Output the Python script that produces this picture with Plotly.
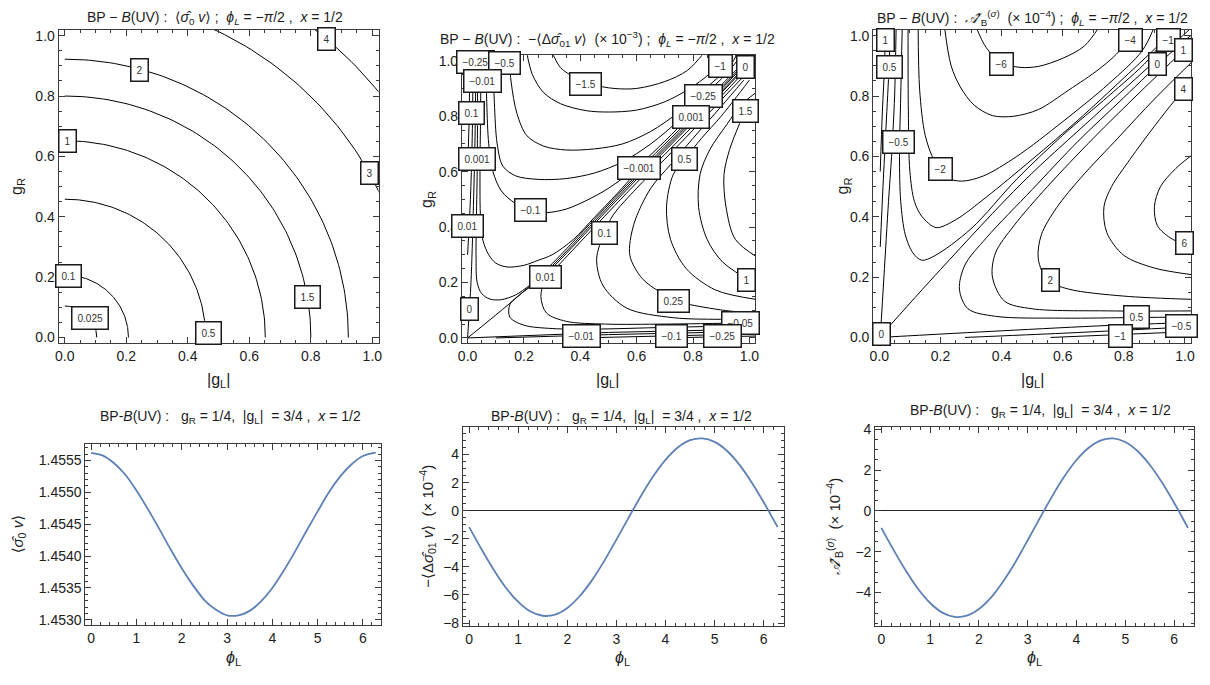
import numpy as np
import plotly.graph_objects as go

# ---------------- data ----------------
# Top-left: <sigma0 v> contours (quarter circles in the |gL|-gR plane)
sigma0_levels = ["0.025", "0.1", "0.5", "1", "1.5", "2", "3", "4"]
sigma0_radii = [0.104, 0.207, 0.458, 0.652, 0.800, 0.922, 1.130, 1.305]
sigma0_lab_x = [0.083, 0.012, 0.468, 0.010, 0.790, 0.242, 0.990, 0.850]
sigma0_lab_y = [0.065, 0.205, 0.016, 0.651, 0.134, 0.886, 0.545, 0.990]

# Top-middle: -<Δσ01 v> (×10^-3) contour paths, (|gL|, gR) points
dsig_paths = [
    [(0.30, 1.03), (0.33, 0.975), (0.38, 0.94), (0.44, 0.915), (0.52, 0.90), (0.60, 0.90), (0.70, 0.925), (0.78, 0.965), (0.84, 1.03)],
    [(0.21, 1.03), (0.23, 0.95), (0.27, 0.885), (0.33, 0.845), (0.42, 0.82), (0.50, 0.815), (0.60, 0.822), (0.70, 0.852), (0.78, 0.895), (0.86, 0.955), (0.91, 1.03)],
    [(0.146, 1.03), (0.155, 0.92), (0.175, 0.81), (0.21, 0.73), (0.27, 0.692), (0.35, 0.678), (0.45, 0.682), (0.55, 0.70), (0.65, 0.745), (0.75, 0.815), (0.85, 0.905), (0.93, 0.98), (0.96, 1.03)],
    [(0.09, 1.03), (0.095, 0.85), (0.105, 0.70), (0.125, 0.62), (0.17, 0.585), (0.25, 0.572), (0.35, 0.575), (0.45, 0.595), (0.55, 0.635), (0.65, 0.70), (0.75, 0.785), (0.837, 0.872), (0.92, 0.955), (0.98, 1.03)],
    [(0.065, 1.03), (0.068, 0.85), (0.075, 0.70), (0.09, 0.60), (0.12, 0.53), (0.17, 0.485), (0.225, 0.46), (0.28, 0.452), (0.35, 0.465), (0.42, 0.495), (0.50, 0.54), (0.60, 0.615), (0.70, 0.71), (0.80, 0.812), (0.90, 0.912), (1.0, 1.015)],
    [(0.048, 1.03), (0.046, 0.80), (0.044, 0.60), (0.046, 0.43), (0.055, 0.35), (0.075, 0.30), (0.10, 0.27), (0.14, 0.256), (0.20, 0.262), (0.25, 0.28), (0.30, 0.30), (0.376, 0.356), (0.45, 0.435), (0.53, 0.52), (0.60, 0.598), (0.80, 0.80), (1.0, 1.008)],
    [(0.036, 1.03), (0.034, 0.60), (0.030, 0.30), (0.034, 0.20), (0.05, 0.16), (0.08, 0.14), (0.12, 0.138), (0.17, 0.155), (0.22, 0.19), (0.30, 0.268), (0.45, 0.428), (0.60, 0.588), (0.80, 0.792), (1.0, 1.003)],
    [(0.0, 0.0), (0.15, 0.125), (0.30, 0.26), (0.45, 0.42), (0.60, 0.58), (0.80, 0.785), (1.03, 1.025)],
    [(1.03, 0.045), (0.70, 0.038), (0.45, 0.032), (0.30, 0.034), (0.20, 0.046), (0.15, 0.075), (0.15, 0.12), (0.19, 0.16), (0.25, 0.205), (0.30, 0.252), (0.45, 0.412), (0.60, 0.572), (0.80, 0.778), (1.0, 0.99)],
    [(1.03, 0.055), (0.70, 0.05), (0.49, 0.05), (0.35, 0.06), (0.28, 0.09), (0.26, 0.15), (0.276, 0.21), (0.33, 0.27), (0.45, 0.40), (0.60, 0.56), (0.80, 0.765), (1.0, 0.98)],
    [(1.03, 0.066), (0.917, 0.067), (0.73, 0.073), (0.564, 0.108), (0.48, 0.19), (0.458, 0.285), (0.485, 0.379), (0.517, 0.444), (0.60, 0.54), (0.70, 0.645), (0.80, 0.75), (0.92, 0.88), (1.0, 0.965)],
    [(1.03, 0.09), (0.93, 0.097), (0.79, 0.12), (0.73, 0.135), (0.68, 0.167), (0.62, 0.214), (0.576, 0.297), (0.59, 0.41), (0.65, 0.54), (0.72, 0.625), (0.80, 0.72), (0.90, 0.835), (0.98, 0.93)],
    [(1.03, 0.138), (0.88, 0.173), (0.776, 0.25), (0.72, 0.356), (0.706, 0.473), (0.73, 0.59), (0.77, 0.644), (0.83, 0.72), (0.90, 0.80), (0.97, 0.89), (1.0, 0.93)],
    [(1.03, 0.19), (0.906, 0.273), (0.85, 0.356), (0.82, 0.47), (0.825, 0.59), (0.86, 0.68), (0.92, 0.77), (0.97, 0.84), (1.03, 0.89)],
    [(1.03, 0.29), (0.95, 0.356), (0.917, 0.473), (0.91, 0.59), (0.93, 0.68), (0.96, 0.76), (0.985, 0.818), (1.03, 0.87)],
    [(0.0, 0.0), (0.012, 0.20), (0.020, 0.45), (0.026, 0.70), (0.030, 1.03)],
    [(0.0, 0.30), (0.010, 0.50), (0.016, 0.70), (0.020, 1.03)],
    [(0.0, 0.60), (0.006, 0.80), (0.008, 1.03)],
    [(0.0, 0.0), (0.50, 0.02), (1.03, 0.032)],
    [(0.10, 0.0), (0.50, 0.012), (1.03, 0.024)],
    [(0.40, 0.0), (0.72, 0.007), (1.03, 0.015)],
    [(0.70, 0.0), (1.03, 0.007)],
]
dsig_lab_text = ["−0.25", "−0.5", "−0.01", "−1.5", "−1", "0", "−0.25", "1.5", "0.001", "0.1", "0.001",
                 "0.5", "−0.001", "−0.1", "0.01", "0.1", "0.01", "1", "0.25", "0", "−0.05", "−0.01", "−0.1", "−0.25"]
dsig_lab_x = [0.028, 0.131, 0.054, 0.417, 0.896, 0.988, 0.837, 0.985, 0.794, 0.013, 0.034,
              0.770, 0.608, 0.225, 0.000, 0.485, 0.276, 0.990, 0.730, 0.006, 0.970, 0.406, 0.723, 0.906]
dsig_lab_y = [0.995, 0.992, 0.927, 0.916, 0.982, 0.979, 0.872, 0.818, 0.797, 0.810, 0.644,
              0.644, 0.612, 0.460, 0.403, 0.379, 0.220, 0.210, 0.135, 0.105, 0.053, 0.006, 0.006, 0.006]

# Top-right: A'_B^(σ) (×10^-4) contour paths
asym_paths = [
    [(0.316, 1.03), (0.35, 0.96), (0.40, 0.91), (0.46, 0.895), (0.52, 0.898), (0.60, 0.925), (0.67, 0.965), (0.72, 1.03)],
    [(0.213, 1.03), (0.235, 0.90), (0.265, 0.83), (0.31, 0.77), (0.37, 0.735), (0.44, 0.733), (0.52, 0.755), (0.62, 0.82), (0.72, 0.89), (0.79, 0.955), (0.83, 1.03)],
    [(0.127, 1.03), (0.132, 0.82), (0.15, 0.67), (0.18, 0.585), (0.22, 0.53), (0.27, 0.518), (0.34, 0.535), (0.45, 0.60), (0.60, 0.715), (0.75, 0.84), (0.86, 0.95), (0.90, 1.03)],
    [(0.094, 1.03), (0.095, 0.75), (0.10, 0.55), (0.115, 0.45), (0.14, 0.40), (0.186, 0.364), (0.25, 0.39), (0.35, 0.465), (0.50, 0.59), (0.65, 0.72), (0.80, 0.86), (0.93, 0.985), (0.97, 1.03)],
    [(0.075, 1.03), (0.070, 0.80), (0.066, 0.60), (0.070, 0.45), (0.085, 0.34), (0.11, 0.28), (0.138, 0.256), (0.18, 0.27), (0.30, 0.36), (0.45, 0.525), (0.60, 0.67), (0.75, 0.80), (0.88, 0.92), (0.96, 1.03)],
    [(0.0, 0.0), (0.20, 0.225), (0.47, 0.515), (0.70, 0.73), (0.909, 0.922), (1.03, 1.035)],
    [(1.03, 0.068), (0.84, 0.066), (0.60, 0.064), (0.38, 0.07), (0.29, 0.095), (0.262, 0.16), (0.28, 0.24), (0.35, 0.33), (0.50, 0.49), (0.65, 0.65), (0.80, 0.795), (0.95, 0.94), (1.03, 1.01)],
    [(1.03, 0.088), (0.75, 0.088), (0.50, 0.095), (0.41, 0.12), (0.37, 0.20), (0.38, 0.28), (0.44, 0.37), (0.55, 0.50), (0.70, 0.66), (0.85, 0.81), (1.0, 0.955), (1.03, 0.98)],
    [(1.03, 0.126), (0.80, 0.137), (0.62, 0.16), (0.55, 0.19), (0.52, 0.26), (0.53, 0.34), (0.58, 0.43), (0.66, 0.53), (0.78, 0.66), (0.90, 0.79), (1.03, 0.92)],
    [(1.03, 0.207), (0.90, 0.23), (0.80, 0.272), (0.744, 0.348), (0.735, 0.434), (0.76, 0.50), (0.82, 0.59), (0.90, 0.70), (0.97, 0.79), (1.03, 0.86)],
    [(1.03, 0.30), (0.96, 0.325), (0.91, 0.37), (0.90, 0.434), (0.92, 0.50), (0.97, 0.56), (1.03, 0.61)],
    [(0.003, 0.0), (0.015, 0.20), (0.030, 0.45), (0.040, 0.60), (0.050, 0.80), (0.055, 1.03)],
    [(0.003, 0.30), (0.012, 0.50), (0.022, 0.70), (0.032, 0.90), (0.036, 1.03)],
    [(0.003, 0.55), (0.010, 0.75), (0.017, 0.90), (0.020, 1.03)],
    [(0.0, 0.0), (0.40, 0.022), (0.755, 0.04), (1.03, 0.05)],
    [(0.28, 0.0), (0.60, 0.014), (0.80, 0.024), (1.03, 0.036)],
    [(0.56, 0.0), (0.79, 0.01), (1.03, 0.02)],
]
asym_lab_text = ["1", "0.5", "−0.5", "−2", "−6", "−4", "−1", "1", "0", "4", "6", "2", "0.5", "−0.5", "−1", "0"]
asym_lab_x = [0.020, 0.034, 0.063, 0.200, 0.400, 0.823, 0.945, 0.996, 0.909, 0.996, 0.997, 0.560, 0.843, 0.988, 0.790, 0.006]
asym_lab_y = [0.987, 0.895, 0.646, 0.557, 0.906, 0.985, 0.987, 0.954, 0.906, 0.822, 0.313, 0.190, 0.068, 0.037, 0.004, 0.010]

# Bottom row: scans in phi_L at gR = 1/4, |gL| = 3/4
phi = [0.0, 0.25, 0.5, 0.75, 1.0, 1.25, 1.5, 1.75, 2.0, 2.25, 2.5, 2.75, 3.0, 3.25,
       3.5, 3.75, 4.0, 4.25, 4.5, 4.75, 5.0, 5.25, 5.5, 5.75, 6.0, 6.25, 6.283]
sigma0_phi = [1.45562, 1.45558, 1.45546, 1.45528, 1.45503, 1.45474, 1.45443, 1.45411, 1.45381,
              1.45354, 1.45331, 1.45316, 1.45307, 1.45307, 1.45314, 1.45329, 1.45350, 1.45377,
              1.45407, 1.45439, 1.45470, 1.45500, 1.45525, 1.45544, 1.45557, 1.45562, 1.45562]
dsig_phi = [-1.17, -2.73, -4.20, -5.49, -6.49, -7.18, -7.48, -7.40, -6.92, -6.09, -4.96, -3.59,
            -2.06, -0.49, 1.05, 2.45, 3.62, 4.50, 5.02, 5.15, 4.90, 4.27, 3.30, 2.05, 0.60, -0.96, -1.17]
asym_phi = [-0.83, -1.91, -2.92, -3.81, -4.51, -4.98, -5.19, -5.13, -4.80, -4.23, -3.44, -2.50,
            -1.44, -0.35, 0.71, 1.68, 2.49, 3.09, 3.45, 3.55, 3.37, 2.93, 2.26, 1.40, 0.40, -0.68, -0.83]

# ---------------- styling ----------------
W, H = 1210, 685
FONT = "Liberation Sans, Arial, DejaVu Sans, sans-serif"
FRAME = "#3a3a3a"
TXT = "#1c1c1c"
BLUE = "#5e81b5"

# subplot frames in pixels: left, top, right, bottom
BOX = {
    1: (55, 24, 377, 343),
    2: (461, 50, 756, 343),
    3: (875, 24, 1195, 343),
    4: (82, 445, 380, 629),
    5: (462, 428, 785, 630),
    6: (877, 428, 1198, 630),
}


def domains(i):
    l, t, r, b = BOX[i]
    return [l / W, r / W], [1 - b / H, 1 - t / H]


def axis(domain, rng, tick0, dtick, mdtick, fmt, anchor, zero=False):
    return dict(
        domain=domain, range=rng, anchor=anchor, tick0=tick0, dtick=dtick, tickformat=fmt,
        ticks="inside", ticklen=6, tickwidth=1, tickcolor=FRAME,
        minor=dict(ticks="inside", ticklen=3, tickwidth=1, tickcolor=FRAME,
                   tick0=tick0, dtick=mdtick, showgrid=False),
        showline=True, linewidth=1, linecolor=FRAME, mirror="allticks",
        showgrid=False, zeroline=zero, zerolinecolor="#222222", zerolinewidth=1,
        tickfont=dict(family=FONT, size=14, color=TXT),
    )


fig = go.Figure()
layout = dict(width=W, height=H, margin=dict(l=0, r=0, t=0, b=0),
              paper_bgcolor="white", plot_bgcolor="white", showlegend=False)

grng = [-0.02, 1.02]
prng = [-0.126, 6.41]
specs = {
    1: (grng, 0, 0.2, 0.05, ".1f", grng, 0, 0.2, 0.05, ".1f", False),
    2: (grng, 0, 0.2, 0.05, ".1f", grng, 0, 0.2, 0.05, ".1f", False),
    3: (grng, 0, 0.2, 0.05, ".1f", grng, 0, 0.2, 0.05, ".1f", False),
    4: (prng, 0, 1, 0.2, "d", [1.45292, 1.45576], 1.453, 0.0005, 0.0001, ".4f", False),
    5: (prng, 0, 1, 0.2, "d", [-8.2, 5.95], 0, 2, 0.5, "d", True),
    6: (prng, 0, 1, 0.2, "d", [-5.63, 4.1], 0, 2, 0.5, "d", True),
}
for i, (xr, xt0, xdt, xm, xf, yr, yt0, ydt, ym, yf, zero) in specs.items():
    dx, dy = domains(i)
    sfx = "" if i == 1 else str(i)
    layout["xaxis" + sfx] = axis(dx, xr, xt0, xdt, xm, xf, "y" + sfx)
    layout["yaxis" + sfx] = axis(dy, yr, yt0, ydt, ym, yf, "x" + sfx, zero=zero)

line_k = dict(color="black", width=1)

# top-left arcs
t = np.linspace(0, np.pi / 2, 90)
for r in sigma0_radii:
    fig.add_trace(go.Scatter(x=r * np.cos(t), y=r * np.sin(t), mode="lines",
                             line=line_k, xaxis="x", yaxis="y", hoverinfo="skip"))

# top-middle and top-right paths
for paths, ax in ((dsig_paths, "2"), (asym_paths, "3")):
    for p in paths:
        xs, ys = zip(*p)
        shape = "linear" if len(p) <= 3 else "spline"
        fig.add_trace(go.Scatter(x=xs, y=ys, mode="lines",
                                 line=dict(color="black", width=1, shape=shape, smoothing=0.9),
                                 xaxis="x" + ax, yaxis="y" + ax, hoverinfo="skip"))

# bottom scans
for vals, ax in ((sigma0_phi, "4"), (dsig_phi, "5"), (asym_phi, "6")):
    fig.add_trace(go.Scatter(x=phi, y=vals, mode="lines",
                             line=dict(color=BLUE, width=1.8, shape="spline", smoothing=0.8),
                             xaxis="x" + ax, yaxis="y" + ax, hoverinfo="skip"))

ann = []
# contour labels
for texts, xs, ys, ax in ((sigma0_levels, sigma0_lab_x, sigma0_lab_y, ""),
                          (dsig_lab_text, dsig_lab_x, dsig_lab_y, "2"),
                          (asym_lab_text, asym_lab_x, asym_lab_y, "3")):
    for s, x, y in zip(texts, xs, ys):
        ann.append(dict(x=x, y=y, xref="x" + ax, yref="y" + ax, text=s, showarrow=False,
                        font=dict(family=FONT, size=10, color="#333333"),
                        bgcolor="white", bordercolor="#1a1a1a", borderwidth=1.5, borderpad=5))


def ptext(px, py, text, size=13, angle=0):
    ann.append(dict(x=px / W, y=1 - py / H, xref="paper", yref="paper", text=text,
                    showarrow=False, textangle=angle, xanchor="center", yanchor="middle",
                    font=dict(family=FONT, size=size, color=TXT)))


SIG = "<i>σ\u0302</i>"
AH = "<i>\U0001D49C\u0302</i>'"
PHI_L = "<i>ϕ<sub>L</sub></i>"

ptext(212, 12, "BP − <i>B</i>(UV) :  ⟨" + SIG + "<sub>0</sub> <i>v</i>⟩ ;  " + PHI_L + " = −<i>π</i>/2 ,  <i>x</i> = 1/2", size=14)
ptext(608, 34, "BP − <i>B</i>(UV) :  −⟨Δ" + SIG + "<sub>01</sub> <i>v</i>⟩  (× 10<sup>−3</sup>) ;  " + PHI_L + " = −<i>π</i>/2 ,  <i>x</i> = 1/2", size=14)
ptext(1035, 12, "BP − <i>B</i>(UV) :  " + AH + "<sub>B</sub><sup>(<i>σ</i>)</sup>  (× 10<sup>−4</sup>) ;  " + PHI_L + " = −<i>π</i>/2 ,  <i>x</i> = 1/2", size=14)
bt = "BP-<i>B</i>(UV) :   g<sub>R</sub> = 1/4,  |g<sub>L</sub>|  = 3/4 ,  <i>x</i> = 1/2"
ptext(228, 418, bt, size=14)
ptext(622, 418, bt, size=14)
ptext(1043, 412, bt, size=14)

# axis titles
for cx in (216, 608, 1035):
    ptext(cx, 381, "|g<sub>L</sub>|", size=16)
for px, py in ((13, 183), (427, 197), (845, 183)):
    ptext(px, py, "g<sub>R</sub>", size=16, angle=-90)
for cx in (231, 623, 1037):
    ptext(cx, 663, "<i>ϕ</i><sub>L</sub>", size=16)
ptext(14, 537, "⟨" + SIG + "<sub>0</sub> <i>v</i>⟩", size=15, angle=-90)
ptext(426, 529, "−⟨Δ" + SIG + "<sub>01</sub> <i>v</i>⟩  (× 10<sup>−4</sup>)", size=15, angle=-90)
ptext(836, 529, AH + "<sub>B</sub><sup>(<i>σ</i>)</sup>  (× 10<sup>−4</sup>)", size=15, angle=-90)

layout["annotations"] = ann
fig.update_layout(**layout)
fig.write_html("out.html")
